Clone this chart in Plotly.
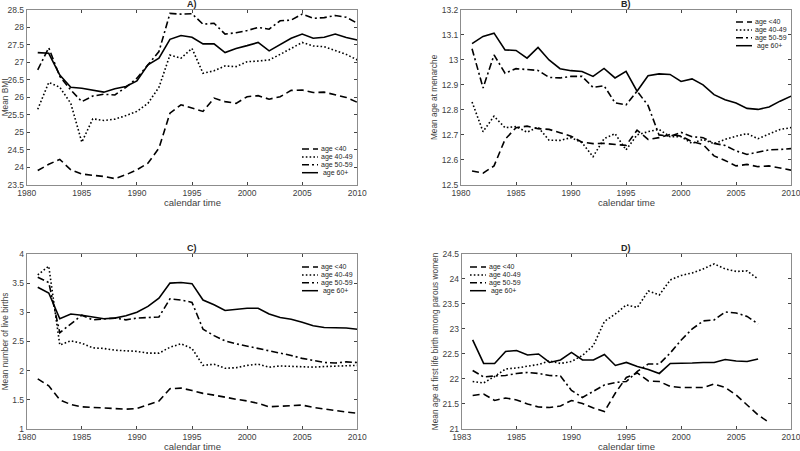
import plotly.graph_objects as go

years = list(range(1981, 2011))
years_d = list(range(1981, 2008))
years_d_lt40 = list(range(1981, 2009))
groups = ["age <40", "age 40-49", "age 50-59", " age 60+"]
dashes = ["7px,4px", "1.6px,2.2px", "7px,3px,2px,3px", "solid"]

# Panel A: Mean BMI
bmi_lt40 = [23.91, 24.09, 24.23, 23.93, 23.81, 23.78, 23.74, 23.68, 23.79, 23.93,
            24.12, 24.55, 25.55, 25.79, 25.69, 25.6, 25.98, 25.88, 25.83, 26.02,
            26.05, 25.95, 26.02, 26.2, 26.21, 26.14, 26.15, 26.07, 26.0, 25.86]
bmi_40_49 = [25.66, 26.43, 26.29, 25.83, 24.72, 25.39, 25.34, 25.38, 25.48, 25.6,
             25.83, 26.29, 27.21, 27.12, 27.4, 26.69, 26.76, 26.9, 26.88, 27.02,
             27.04, 27.07, 27.23, 27.4, 27.57, 27.47, 27.45, 27.34, 27.23, 27.07]
bmi_50_59 = [26.79, 27.42, 26.6, 26.21, 25.88, 26.04, 26.09, 26.07, 26.29, 26.55,
             26.93, 27.31, 28.4, 28.38, 28.39, 28.09, 28.12, 27.81, 27.85, 27.91,
             28.0, 27.95, 28.19, 28.21, 28.38, 28.26, 28.28, 28.34, 28.29, 28.12]
bmi_60p = [27.28, 27.26, 26.64, 26.29, 26.26, 26.21, 26.15, 26.25, 26.31, 26.47,
           26.93, 27.12, 27.66, 27.77, 27.72, 27.53, 27.53, 27.28, 27.4, 27.48,
           27.57, 27.33, 27.5, 27.69, 27.81, 27.69, 27.72, 27.81, 27.71, 27.64]

# Panel B: Mean age at menarche
men_lt40 = [12.556, 12.547, 12.576, 12.682, 12.729, 12.735, 12.725, 12.722, 12.709, 12.695,
            12.671, 12.665, 12.666, 12.662, 12.658, 12.719, 12.682, 12.689, 12.702, 12.695,
            12.673, 12.662, 12.616, 12.598, 12.576, 12.582, 12.573, 12.576, 12.569, 12.559]
men_40_49 = [12.832, 12.713, 12.775, 12.729, 12.733, 12.711, 12.731, 12.679, 12.678, 12.689,
             12.669, 12.613, 12.685, 12.705, 12.64, 12.7, 12.713, 12.722, 12.693, 12.693,
             12.666, 12.682, 12.665, 12.682, 12.695, 12.705, 12.685, 12.705, 12.722, 12.729]
men_50_59 = [13.045, 12.888, 13.02, 12.947, 12.965, 12.96, 12.958, 12.93, 12.928, 12.934,
             12.934, 12.89, 12.897, 12.828, 12.82, 12.875, 12.818, 12.70, 12.695, 12.71,
             12.693, 12.689, 12.666, 12.658, 12.636, 12.622, 12.632, 12.64, 12.642, 12.645]
men_60p = [13.065, 13.094, 13.107, 13.04, 13.038, 13.007, 13.05, 13.0, 12.965, 12.957,
           12.954, 12.934, 12.966, 12.928, 12.954, 12.875, 12.937, 12.944, 12.942, 12.914,
           12.924, 12.9, 12.861, 12.841, 12.828, 12.806, 12.802, 12.812, 12.835, 12.855]

# Panel C: Mean number of live births
lb_lt40 = [1.86, 1.74, 1.5, 1.42, 1.38, 1.37, 1.35, 1.34, 1.34, 1.35,
           1.41, 1.48, 1.69, 1.7, 1.66, 1.61, 1.58, 1.54, 1.51, 1.48,
           1.44, 1.38, 1.39, 1.41, 1.41, 1.37, 1.34, 1.31, 1.29, 1.27]
lb_40_49 = [3.64, 3.79, 2.44, 2.51, 2.47, 2.39, 2.38, 2.35, 2.34, 2.33,
            2.3, 2.3, 2.4, 2.46, 2.38, 2.09, 2.11, 2.04, 2.05, 2.09,
            2.11, 2.06, 2.08, 2.07, 2.07, 2.06, 2.07, 2.08, 2.09, 2.09]
lb_50_59 = [3.6, 3.51, 2.65, 2.8, 2.95, 2.87, 2.88, 2.9, 2.87, 2.9,
            2.91, 2.92, 3.23, 3.21, 3.17, 2.71, 2.6, 2.51, 2.46, 2.42,
            2.39, 2.34, 2.3, 2.26, 2.21, 2.17, 2.14, 2.13, 2.15, 2.14]
lb_60p = [3.43, 3.33, 2.89, 2.97, 2.95, 2.92, 2.89, 2.9, 2.94, 3.0,
          3.1, 3.24, 3.5, 3.51, 3.49, 3.21, 3.13, 3.03, 3.05, 3.07,
          3.07, 2.97, 2.91, 2.88, 2.83, 2.77, 2.74, 2.74, 2.73, 2.71]

# Panel D: Mean age at first life birth among parous women
fb_lt40 = [21.67, 21.7, 21.57, 21.62, 21.58, 21.5, 21.44, 21.43, 21.46, 21.57,
           21.51, 21.42, 21.35, 21.72, 22.03, 22.12, 21.96, 21.95, 21.85, 21.83,
           21.83, 21.83, 21.9, 21.83, 21.68, 21.48, 21.28, 21.13]
fb_40_49 = [21.95, 21.92, 22.05, 22.2, 22.22, 22.25, 22.29, 22.36, 22.31, 22.35,
            22.47, 22.67, 23.15, 23.3, 23.48, 23.43, 23.76, 23.68, 23.98, 24.07,
            24.12, 24.2, 24.3, 24.2, 24.15, 24.16, 24.0]
fb_50_59 = [22.17, 22.04, 22.06, 22.07, 22.11, 22.13, 22.11, 22.07, 22.06, 21.77,
            21.63, 21.75, 21.88, 21.93, 21.95, 22.15, 22.3, 22.3, 22.52, 22.78,
            23.0, 23.16, 23.18, 23.34, 23.32, 23.25, 23.1]
fb_60p = [22.78, 22.31, 22.31, 22.55, 22.57, 22.48, 22.5, 22.33, 22.38, 22.53,
          22.38, 22.38, 22.49, 22.27, 22.33, 22.25, 22.19, 22.11, 22.31, 22.31,
          22.32, 22.33, 22.33, 22.39, 22.36, 22.35, 22.4]

x_ticks = [1980, 1985, 1990, 1995, 2000, 2005, 2010]
x_ticktext_abc = ["1980", "1985", "1990", "1995", "2000", "2005", "2010"]
x_ticktext_d = ["1983", "1985", "1990", "1995", "2000", "2005", "2010"]

W, H = 800, 451

panels = [
    dict(name="A)", ylabel="Mean BMI", ys=[bmi_lt40, bmi_40_49, bmi_50_59, bmi_60p],
         xs=[years] * 4, yrange=[23.5, 28.5], dtick=0.5, ticktext=x_ticktext_abc,
         xdom=[0.0334, 0.4466], ydom=[0.590, 0.978], leg_px=(302, 149), xt_py=202),
    dict(name="B)", ylabel="Mean age at menarche", ys=[men_lt40, men_40_49, men_50_59, men_60p],
         xs=[years] * 4, yrange=[12.5, 13.2], dtick=0.1, ticktext=x_ticktext_abc,
         xdom=[0.5763, 0.9888], ydom=[0.590, 0.978], leg_px=(736, 22), xt_py=202),
    dict(name="C)", ylabel="Mean number of live births", ys=[lb_lt40, lb_40_49, lb_50_59, lb_60p],
         xs=[years] * 4, yrange=[1, 4], dtick=0.5, ticktext=x_ticktext_abc,
         xdom=[0.0334, 0.4466], ydom=[0.0488, 0.437], leg_px=(302, 267), xt_py=446),
    dict(name="D)", ylabel="Mean age at first life birth among parous women",
         ys=[fb_lt40, fb_40_49, fb_50_59, fb_60p],
         xs=[years_d_lt40, years_d, years_d, years_d], yrange=[21, 24.5], dtick=0.5,
         ticktext=x_ticktext_d,
         xdom=[0.5771, 0.9888], ydom=[0.0488, 0.437], leg_px=(470, 267), xt_py=446),
]

fig = go.Figure()
layout = dict(
    width=W, height=H,
    margin=dict(l=0, r=0, t=0, b=0, autoexpand=False),
    paper_bgcolor="white", plot_bgcolor="white",
    font=dict(family="Liberation Sans, Arial, sans-serif", color="#262626"),
    showlegend=False,
)
annotations = []
shapes = []
tick_font = dict(size=8.5, color="#404040")
for i, p in enumerate(panels):
    k = "" if i == 0 else str(i + 1)
    for g, d, xv, yv in zip(groups, dashes, p["xs"], p["ys"]):
        fig.add_trace(go.Scatter(
            x=xv, y=yv, mode="lines", name=g.strip(),
            line=dict(color="black", width=1.6, dash=d),
            xaxis="x" + k, yaxis="y" + k,
        ))
    layout["xaxis" + k] = dict(
        domain=p["xdom"], anchor="y" + k, range=[1980, 2010],
        tickvals=x_ticks, ticktext=p["ticktext"], ticks="inside", ticklen=3,
        tickcolor="#444", showline=True, linecolor="#8c8c8c", linewidth=1,
        mirror="ticks", showgrid=False, zeroline=False, tickfont=tick_font,
        automargin=False, ticklabeloverflow="allow",
    )
    layout["yaxis" + k] = dict(
        domain=p["ydom"], anchor="x" + k, range=p["yrange"], dtick=p["dtick"],
        tick0=p["yrange"][0], ticks="inside", ticklen=3, tickcolor="#444",
        showline=True, linecolor="#8c8c8c", linewidth=1, mirror="ticks",
        showgrid=False, zeroline=False, tickfont=tick_font, automargin=False,
        ticklabeloverflow="allow",
        title=dict(text=p["ylabel"], font=dict(size=8.3, color="#404040"), standoff=2),
    )
    cx = (p["xdom"][0] + p["xdom"][1]) / 2
    # panel title
    annotations.append(dict(
        text="<b>" + p["name"] + "</b>", xref="paper", yref="paper",
        x=cx, y=p["ydom"][1], xanchor="center", yanchor="bottom",
        showarrow=False, font=dict(size=9, color="#262626"), yshift=-1,
    ))
    # x-axis title
    annotations.append(dict(
        text="calendar time", xref="paper", yref="paper",
        x=cx, y=1 - p["xt_py"] / H, xanchor="center", yanchor="middle",
        showarrow=False, font=dict(size=9.5, color="#404040"),
    ))
    # manual compact legend (MATLAB style)
    lx, ly = p["leg_px"]
    for j, (g, d) in enumerate(zip(groups, dashes)):
        yy = 1 - (ly + j * 7.9) / H
        shapes.append(dict(
            type="line", xref="paper", yref="paper",
            x0=lx / W, x1=(lx + 16) / W, y0=yy, y1=yy,
            line=dict(color="black", width=1.5, dash=d),
        ))
        annotations.append(dict(
            text=g, xref="paper", yref="paper", x=(lx + 17) / W, y=yy,
            xanchor="left", yanchor="middle", showarrow=False,
            font=dict(size=7, color="#262626"),
        ))
layout["annotations"] = annotations
layout["shapes"] = shapes
fig.update_layout(**layout)
fig.write_html(
    "out.html",
    config={"displayModeBar": False},
    post_script="document.body.style.margin='0';document.body.style.overflow='hidden';",
)
